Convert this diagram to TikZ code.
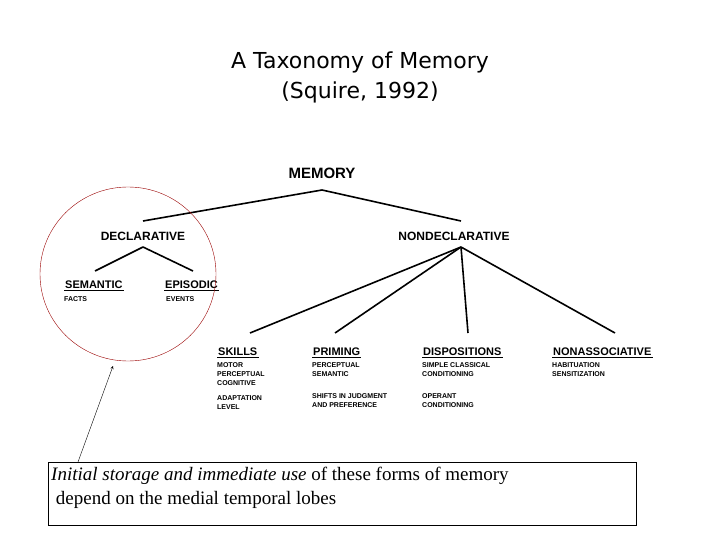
\documentclass[tikz,border=0pt]{standalone}
\usepackage{fontspec}
\setmainfont{Liberation Serif}
\newfontfamily\hvsans{Liberation Sans}
\newfontfamily\djsans{DejaVu Sans}
\begin{document}
\begin{tikzpicture}[x=1pt,y=-1pt,
  big/.style={font=\hvsans\bfseries\fontsize{15}{15}\selectfont,inner sep=1pt},
  cat/.style={font=\hvsans\bfseries\fontsize{11}{11}\selectfont,inner sep=1pt,anchor=west},
  ul/.style={append after command={(\tikzlastnode.south west) edge[line width=1pt] (\tikzlastnode.south east)}},
  sub/.style={font=\hvsans\bfseries\fontsize{7}{9}\selectfont,inner sep=0pt,anchor=north west,align=left},
  br/.style={line width=1.6pt}]
\useasboundingbox (0,0) rectangle (720,540);
\node[font=\djsans\fontsize{22}{30}\selectfont,align=center] (title) at (360,77) {A Taxonomy of Memory\\(Squire, 1992)};
\node[big] (mem) at (322,173) {MEMORY};
\node[big,font=\hvsans\bfseries\fontsize{12}{12}\selectfont] (dec) at (143,236) {DECLARATIVE};
\node[big,font=\hvsans\bfseries\fontsize{12}{12}\selectfont] (nd) at (454,236) {NONDECLARATIVE};
\coordinate (m) at (322,190);
\coordinate (dt) at (143,221); \coordinate (ndt) at (461,221);
\draw[br] (m) -- (dt); \draw[br] (m) -- (ndt);
\coordinate (db) at (143,247);
\node[cat,ul] (sem) at (64,285) {SEMANTIC};
\node[cat,ul] (epi) at (164,285) {EPISODIC};
\node[sub] (facts) at (64,296) {FACTS};
\node[sub] (events) at (166,296) {EVENTS};
\draw[br] (db) -- (95,271); \draw[br] (db) -- (193,271);
\coordinate (nb) at (461,247);
\draw[br] (nb) -- (250,333); \draw[br] (nb) -- (335,333); \draw[br] (nb) -- (468,333); \draw[br] (nb) -- (615,333);
\node[cat,ul] (sk) at (217,352) {SKILLS};
\node[cat,ul] (pr) at (312,352) {PRIMING};
\node[cat,ul] (di) at (422,352) {DISPOSITIONS};
\node[cat,ul] (na) at (552,352) {NONASSOCIATIVE};
\node[sub] (sk1) at (217,362) {MOTOR\\PERCEPTUAL\\COGNITIVE};
\node[sub] (sk2) at (217,395) {ADAPTATION\\LEVEL};
\node[sub] (pr1) at (312,362) {PERCEPTUAL\\SEMANTIC};
\node[sub] (pr2) at (312,393) {SHIFTS IN JUDGMENT\\AND PREFERENCE};
\node[sub] (di1) at (422,362) {SIMPLE CLASSICAL\\CONDITIONING};
\node[sub] (di2) at (422,393) {OPERANT\\CONDITIONING};
\node[sub] (na1) at (552,362) {HABITUATION\\SENSITIZATION};
\draw[red!60!black,thin] (128,274) ellipse [x radius=88, y radius=87];
\node[draw,thick,minimum width=588,minimum height=63,anchor=north west,inner sep=0pt] (box) at (48,462) {};
\node[anchor=north west,align=left,font=\fontsize{19}{24}\selectfont,inner sep=0pt] (txt) at (51,467) {\textit{Initial storage and immediate use} of these forms of memory\\ \ depend on the medial temporal lobes};
\coordinate (tip) at (113,366);
\draw[-stealth] (box.north west) ++(30,0) coordinate (a0) -- (tip);
\end{tikzpicture}
\end{document}
